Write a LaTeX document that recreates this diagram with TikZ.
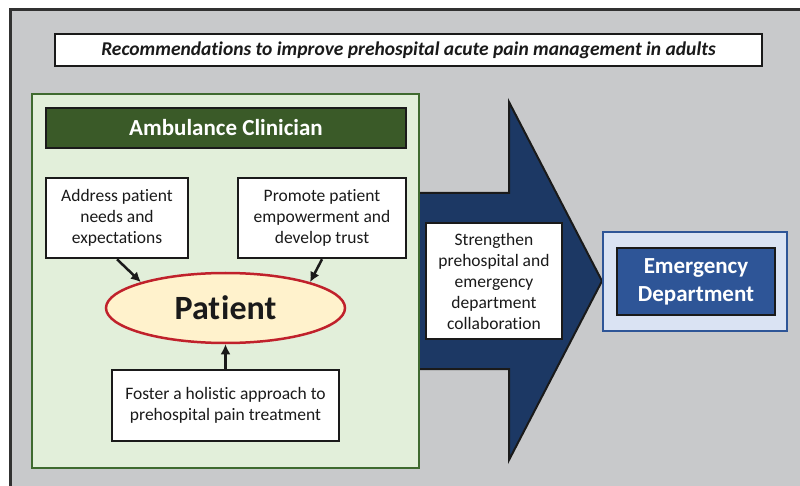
\documentclass[tikz,border=0pt]{standalone}
\usepackage{fontspec}
\setmainfont{Carlito}[Ligatures=CommonOff]
\usepackage{tikz}
\usetikzlibrary{arrows.meta,shapes}
\definecolor{panelgray}{HTML}{C8C9CB}
\definecolor{leafgreen}{HTML}{E2EFDA}
\definecolor{moss}{HTML}{3F6A2F}
\definecolor{forest}{HTML}{3A5A28}
\definecolor{cream}{HTML}{FFF2CC}
\definecolor{crimson}{HTML}{C0212B}
\definecolor{navy}{HTML}{1C3864}
\definecolor{paleblue}{HTML}{DAE3F3}
\definecolor{royal}{HTML}{2E5597}
\definecolor{ink}{HTML}{1A1A1A}
\tikzstyle{textbox}=[rectangle,draw=ink,fill=white,line width=2.5pt,text=ink,align=center,inner sep=2pt,font=\fontsize{17.5}{21}\selectfont]
\tikzstyle{headbox}=[rectangle,draw=ink,line width=2.5pt,text=white,align=center,font=\bfseries\fontsize{23}{28}\selectfont]
\tikzstyle{link}=[draw=ink,line width=2.5pt,-{Latex[length=10pt,width=10pt]}]

\begin{document}
\begin{tikzpicture}[x=1pt,y=-1pt]
    \useasboundingbox (0,0) rectangle (800,486);
    \clip (0,0) rectangle (800,486);
    % First the gray panel and the title
    \draw[fill=panelgray,draw=ink!90,line width=3pt] (10,10) rectangle (812,500);
    \node[textbox,minimum width=707pt,minimum height=32pt,font=\bfseries\itshape\fontsize{19.5}{22}\selectfont] (title) at (408.5,50) {Recommendations to improve prehospital acute pain management in adults};

    % The big arrow towards the department
    \draw[fill=navy,draw=ink,line width=2pt] (412,193) -- (509,193) -- (509,102) -- (602,281) -- (509,460) -- (509,369) -- (412,369) -- cycle;

    % Clinician panel
    \draw[fill=leafgreen,draw=moss,line width=2pt] (32,94) rectangle (419,468);
    \node[headbox,fill=forest,minimum width=360pt,minimum height=40pt] (clinician) at (226,128) {Ambulance Clinician};

    % Then the boxes around the patient
    \node[textbox,minimum width=142pt,minimum height=80pt] (needs) at (117,218) {Address patient\\needs and\\expectations};
    \node[textbox,minimum width=168pt,minimum height=80pt] (trust) at (322,218) {Promote patient\\empowerment and\\develop trust};
    \node[ellipse,draw=crimson,fill=cream,line width=2.5pt,minimum width=239pt,minimum height=70pt,text=ink,font=\bfseries\fontsize{34}{38}\selectfont] (patient) at (225.5,308) {Pat\kern1pt ient};
    \node[textbox,minimum width=227pt,minimum height=71pt] (holistic) at (225.5,405.5) {Foster a holistic approach to\\prehospital pain treatment};
    \node[textbox,minimum width=136pt,minimum height=116pt] (collab) at (494,281) {Strengthen\\prehospital and\\emergency\\department\\collaboration};

    % Emergency department
    \node[rectangle,draw=royal,fill=paleblue,line width=2pt,minimum width=184pt,minimum height=99pt] (edframe) at (695,281.5) {};
    \node[headbox,fill=royal,minimum width=158pt,minimum height=67pt] (ed) at (696,281.5) {Emergency\\Department};

    % Connect boxes with the patient
    \foreach \source/\dest in {needs.south/patient.163, trust.south/patient.17, holistic.north/patient.south}
        \path[link] (\source) -- (\dest);
\end{tikzpicture}
\end{document}
